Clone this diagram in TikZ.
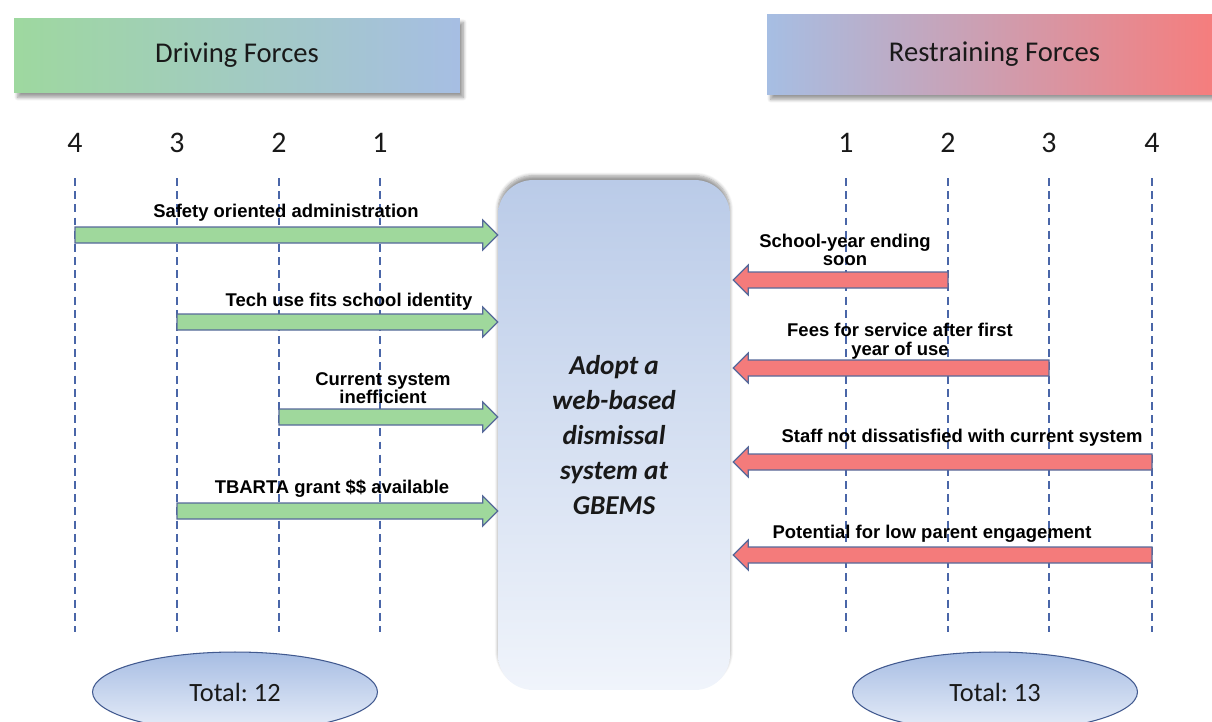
\documentclass[tikz,border=0pt]{standalone}
\usepackage{fontspec}
\setmainfont{Carlito}
\newfontfamily\labelfont{Liberation Sans}
\usetikzlibrary{calc,shapes.geometric,shadows.blur}

\definecolor{guideblue}{HTML}{4A66A8}
\definecolor{edgeblue}{HTML}{56699A}
\definecolor{pushgreen}{HTML}{9FD89C}
\definecolor{pullred}{HTML}{F47B7B}
\definecolor{headgreen}{HTML}{9ED89F}
\definecolor{headblue}{HTML}{A6BEE3}
\definecolor{headred}{HTML}{F77C7B}
\definecolor{coretop}{HTML}{BACBE8}
\definecolor{coremid}{HTML}{A8BCE6}
\definecolor{corebot}{HTML}{F0F4FB}
\definecolor{totaltop}{HTML}{A7BDE3}
\definecolor{totalbot}{HTML}{E8EEF9}
\definecolor{totaledge}{HTML}{41598F}

% Block arrow from a tail point to a tip point; #4 = 1 points right, -1 points left
\newcommand{\forcearrow}[4]{%
  \draw[#1] ($(#2)+(0,8)$) -- ($(#3)+({-15*(#4)},8)$) -- ($(#3)+({-15*(#4)},15)$)
    -- (#3) -- ($(#3)+({-15*(#4)},-15)$) -- ($(#3)+({-15*(#4)},-8)$)
    -- ($(#2)+(0,-8)$) -- cycle;}

\begin{document}
\frenchspacing
\begin{tikzpicture}[x=0.02cm,y=-0.02cm,
  headbox/.style={minimum width=#1, minimum height=1.5cm, inner sep=0pt,
    font=\fontsize{16.3}{19}\selectfont, text=black!90,
    blur shadow={shadow xshift=2pt, shadow yshift=-2.5pt, shadow blur steps=8, shadow opacity=40}},
  scalenum/.style={font=\fontsize{17}{20}\selectfont, text=black!90, inner sep=0pt},
  guide/.style={draw=guideblue, line width=0.6pt, dash pattern=on 4.5pt off 3pt},
  pusharrow/.style={fill=pushgreen, draw=edgeblue, line width=0.7pt},
  pullarrow/.style={fill=pullred, draw=edgeblue, line width=0.7pt},
  flabel/.style={font=\labelfont\bfseries\fontsize{10.5}{10.6}\selectfont, align=center, inner sep=0pt},
  totalbox/.style={ellipse, draw=totaledge, line width=0.6pt, top color=totaltop, bottom color=totalbot,
    minimum width=5.7cm, minimum height=1.6cm, inner sep=0pt, font=\fontsize{15}{18}\selectfont, text=black!90}]

\useasboundingbox (0,0) rectangle (1212,721);
\clip (0,0) rectangle (1212,721);

% scale numbers and dashed guide lines
\foreach \x/\d/\n in {75/4/L4,177/3/L3,279/2/L2,380/1/L1,846/1/R1,948/2/R2,1049/3/R3,1152/4/R4}{
  \node[scalenum] (num\n) at (\x,143) {\d};
  \coordinate (t\n) at (\x,178);
  \coordinate (b\n) at (\x,632);
  \draw[guide] (t\n) -- (b\n);
}

% headers
\node[headbox=8.92cm, left color=headgreen, right color=headblue] (drive) at (237,55.5) {Driving Forces};
\node[headbox=9.1cm, minimum height=1.62cm, left color=headblue, right color=headred, middle color=headblue!50!headred] (restrain) at (994.5,54.5) {Restraining Forces};

% central change box
\node[rounded corners=0.7cm, minimum width=4.64cm, minimum height=10.2cm, inner sep=0pt,
  top color=coretop, middle color=coremid, bottom color=corebot,
  blur shadow={shadow xshift=0pt, shadow yshift=2.5pt, shadow blur steps=6, shadow opacity=40},
  align=center, font=\bfseries\itshape\fontsize{15.5}{19.9}\selectfont, text=black!90] (core) at (614,435)
  {Adopt a\\web-based\\dismissal\\system at\\GBEMS};

% driving forces
\coordinate (g1s) at (tL4 |- 0,235); \coordinate (g1e) at (core.west |- 0,235);
\coordinate (g2s) at (tL3 |- 0,322); \coordinate (g2e) at (core.west |- 0,322);
\coordinate (g3s) at (tL2 |- 0,417); \coordinate (g3e) at (core.west |- 0,417);
\coordinate (g4s) at (tL3 |- 0,511); \coordinate (g4e) at (core.west |- 0,511);
\forcearrow{pusharrow}{g1s}{g1e}{1}
\forcearrow{pusharrow}{g2s}{g2e}{1}
\forcearrow{pusharrow}{g3s}{g3e}{1}
\forcearrow{pusharrow}{g4s}{g4e}{1}
\node[flabel] (lg1) at (286,213) {Safety oriented administration};
\node[flabel] (lg2) at (349,302) {Tech use fits school identity};
\node[flabel] (lg3) at (383,388) {Current system\\inefficient};
\node[flabel] (lg4) at (332,489) {TBARTA grant \$\$ available};

% restraining forces
\coordinate (r1s) at (tR2 |- 0,280); \coordinate (r1e) at ([xshift=3*0.02cm]core.east |- 0,280);
\coordinate (r2s) at (tR3 |- 0,368); \coordinate (r2e) at ([xshift=3*0.02cm]core.east |- 0,368);
\coordinate (r3s) at (tR4 |- 0,462); \coordinate (r3e) at ([xshift=3*0.02cm]core.east |- 0,462);
\coordinate (r4s) at (tR4 |- 0,555); \coordinate (r4e) at ([xshift=3*0.02cm]core.east |- 0,555);
\forcearrow{pullarrow}{r1s}{r1e}{-1}
\forcearrow{pullarrow}{r2s}{r2e}{-1}
\forcearrow{pullarrow}{r3s}{r3e}{-1}
\forcearrow{pullarrow}{r4s}{r4e}{-1}
\node[flabel] (lr1) at (845,250) {School-year ending\\soon};
\node[flabel] (lr2) at (900,341) {Fees for service after first\\year of use};
\node[flabel] (lr3) at (962,438) {Staff not dissatisfied with current system};
\node[flabel] (lr4) at (932,534) {Potential for low parent engagement};

% totals
\node[totalbox] (tot1) at (235,692) {Total: 12};
\node[totalbox] (tot2) at (995,692) {Total: 13};
\end{tikzpicture}
\end{document}
